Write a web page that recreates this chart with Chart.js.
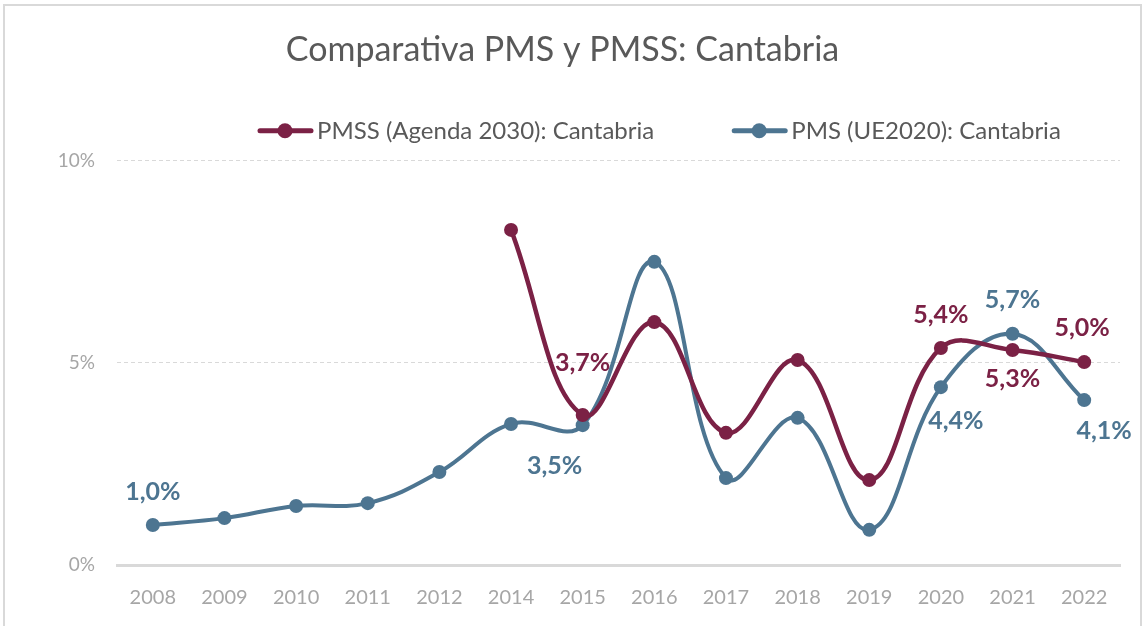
<!DOCTYPE html>
<html>
<head>
<meta charset="utf-8">
<script src="https://cdn.jsdelivr.net/npm/chart.js@4/dist/chart.umd.min.js"></script>
<style>
  html, body { margin: 0; padding: 0; background: #fff; overflow: hidden; }
  #frame {
    position: absolute; left: 3px; top: 4px; width: 1139px; height: 637px;
    border: 2px solid #d9d9d9; box-sizing: border-box;
  }
  #chart { display: block; }
</style>
</head>
<body>
<div id="frame"><canvas id="chart" width="1135" height="633"></canvas></div>
<script>
const years = ['2008', '2009', '2010', '2011', '2012', '2014', '2015', '2016', '2017', '2018', '2019', '2020', '2021', '2022']

// PMSS (Agenda 2030) – only from 2014
const pmssValues = [null, null, null, null, null, 8.29, 3.71, 6.01, 3.27, 5.07, 2.10, 5.37, 5.32, 5.02]
// PMS (UE2020)
const pmsValues = [0.99, 1.16, 1.46, 1.53, 2.30, 3.49, 3.46, 7.50, 2.15, 3.64, 0.87, 4.40, 5.72, 4.08]

const yTicks = [0, 5, 10]

const RED = '#7b2145'
const BLUE = '#4d7591'
const FONT = 'Lato, "Open Sans", sans-serif'

// which points carry a value label, and where it sits relative to the point
const pmssLabelAt = { 6: [0, -52], 11: [0, -33], 12: [0, 29], 13: [-2, -34] }
const pmsLabelAt = { 0: [0, -33], 6: [-28, 41], 11: [15, 34], 12: [0, -34], 13: [20, 31] }

const fmt = (v) => v.toFixed(1).replace('.', ',') + '%'

const valueLabels = {
  id: 'valueLabels',
  afterDatasetsDraw(chart) {
    const ctx = chart.ctx
    chart.data.datasets.forEach((ds, di) => {
      const meta = chart.getDatasetMeta(di)
      const where = ds.labelAt || {}
      Object.keys(where).forEach((k) => {
        const i = Number(k)
        const pt = meta.data[i]
        if (!pt || ds.data[i] == null) return
        ctx.save()
        ctx.font = 'bold 25px ' + FONT
        ctx.fillStyle = ds.borderColor
        ctx.textAlign = 'center'
        ctx.textBaseline = 'middle'
        ctx.fillText(fmt(ds.data[i]), pt.x + where[k][0], pt.y + where[k][1])
        ctx.restore()
      })
    })
  }
}

// Excel-style legend: line with a round marker, then the series name
const lineLegend = {
  id: 'lineLegend',
  afterDraw(chart) {
    const ctx = chart.ctx
    const area = chart.chartArea
    let x = area.left + 141
    const y = area.top - 30
    ctx.save()
    ctx.font = '24px ' + FONT
    ctx.textBaseline = 'middle'
    chart.data.datasets.forEach((ds) => {
      ctx.strokeStyle = ds.borderColor
      ctx.fillStyle = ds.borderColor
      ctx.lineWidth = 5
      ctx.lineCap = 'round'
      ctx.beginPath()
      ctx.moveTo(x + 2, y)
      ctx.lineTo(x + 53, y)
      ctx.stroke()
      ctx.beginPath()
      ctx.arc(x + 27, y, 7.5, 0, Math.PI * 2)
      ctx.fill()
      ctx.fillStyle = '#595959'
      ctx.fillText(ds.label, x + 59, y)
      x += 59 + ctx.measureText(ds.label).width + 78
    })
    ctx.restore()
  }
}

new Chart(document.getElementById('chart'), {
  type: 'line',
  data: {
    labels: years,
    datasets: [
      {
        label: 'PMSS (Agenda 2030): Cantabria',
        data: pmssValues,
        borderColor: RED,
        backgroundColor: RED,
        borderWidth: 4.5,
        pointRadius: 7,
        pointBackgroundColor: RED,
        pointBorderWidth: 0,
        tension: 0.4,
        labelAt: pmssLabelAt
      },
      {
        label: 'PMS (UE2020): Cantabria',
        data: pmsValues,
        borderColor: BLUE,
        backgroundColor: BLUE,
        borderWidth: 4,
        pointRadius: 7,
        pointBackgroundColor: BLUE,
        pointBorderWidth: 0,
        tension: 0.4,
        labelAt: pmsLabelAt
      }
    ]
  },
  options: {
    responsive: false,
    animation: false,
    layout: { padding: { top: 24, right: 20, bottom: 16, left: 0 } },
    scales: {
      x: {
        offset: true,
        grid: { display: false },
        border: { display: true, color: '#d9d9d9', width: 3 },
        ticks: { color: '#a6a6a6', font: { family: FONT, size: 20 }, padding: 13 }
      },
      y: {
        min: 0,
        max: 10,
        afterBuildTicks: (axis) => { axis.ticks = yTicks.map((v) => ({ value: v })) },
        afterFit: (axis) => { axis.width = 112 },
        grid: {
          drawTicks: false,
          color: (c) => (c.tick && c.tick.value === 0 ? 'rgba(0,0,0,0)' : '#d9d9d9'),
          lineWidth: 1
        },
        border: { display: false, dash: [4, 3] },
        ticks: {
          color: '#a6a6a6',
          font: { family: FONT, size: 19 },
          padding: 22,
          callback: (v) => v + '%'
        }
      }
    },
    plugins: {
      title: {
        display: true,
        text: 'Comparativa PMS y PMSS: Cantabria',
        color: '#595959',
        font: { family: FONT, size: 34, weight: 'normal' },
        padding: { top: 0, bottom: 90 }
      },
      legend: { display: false },
      tooltip: { enabled: false }
    }
  },
  plugins: [valueLabels, lineLegend]
})
</script>
</body>
</html>
